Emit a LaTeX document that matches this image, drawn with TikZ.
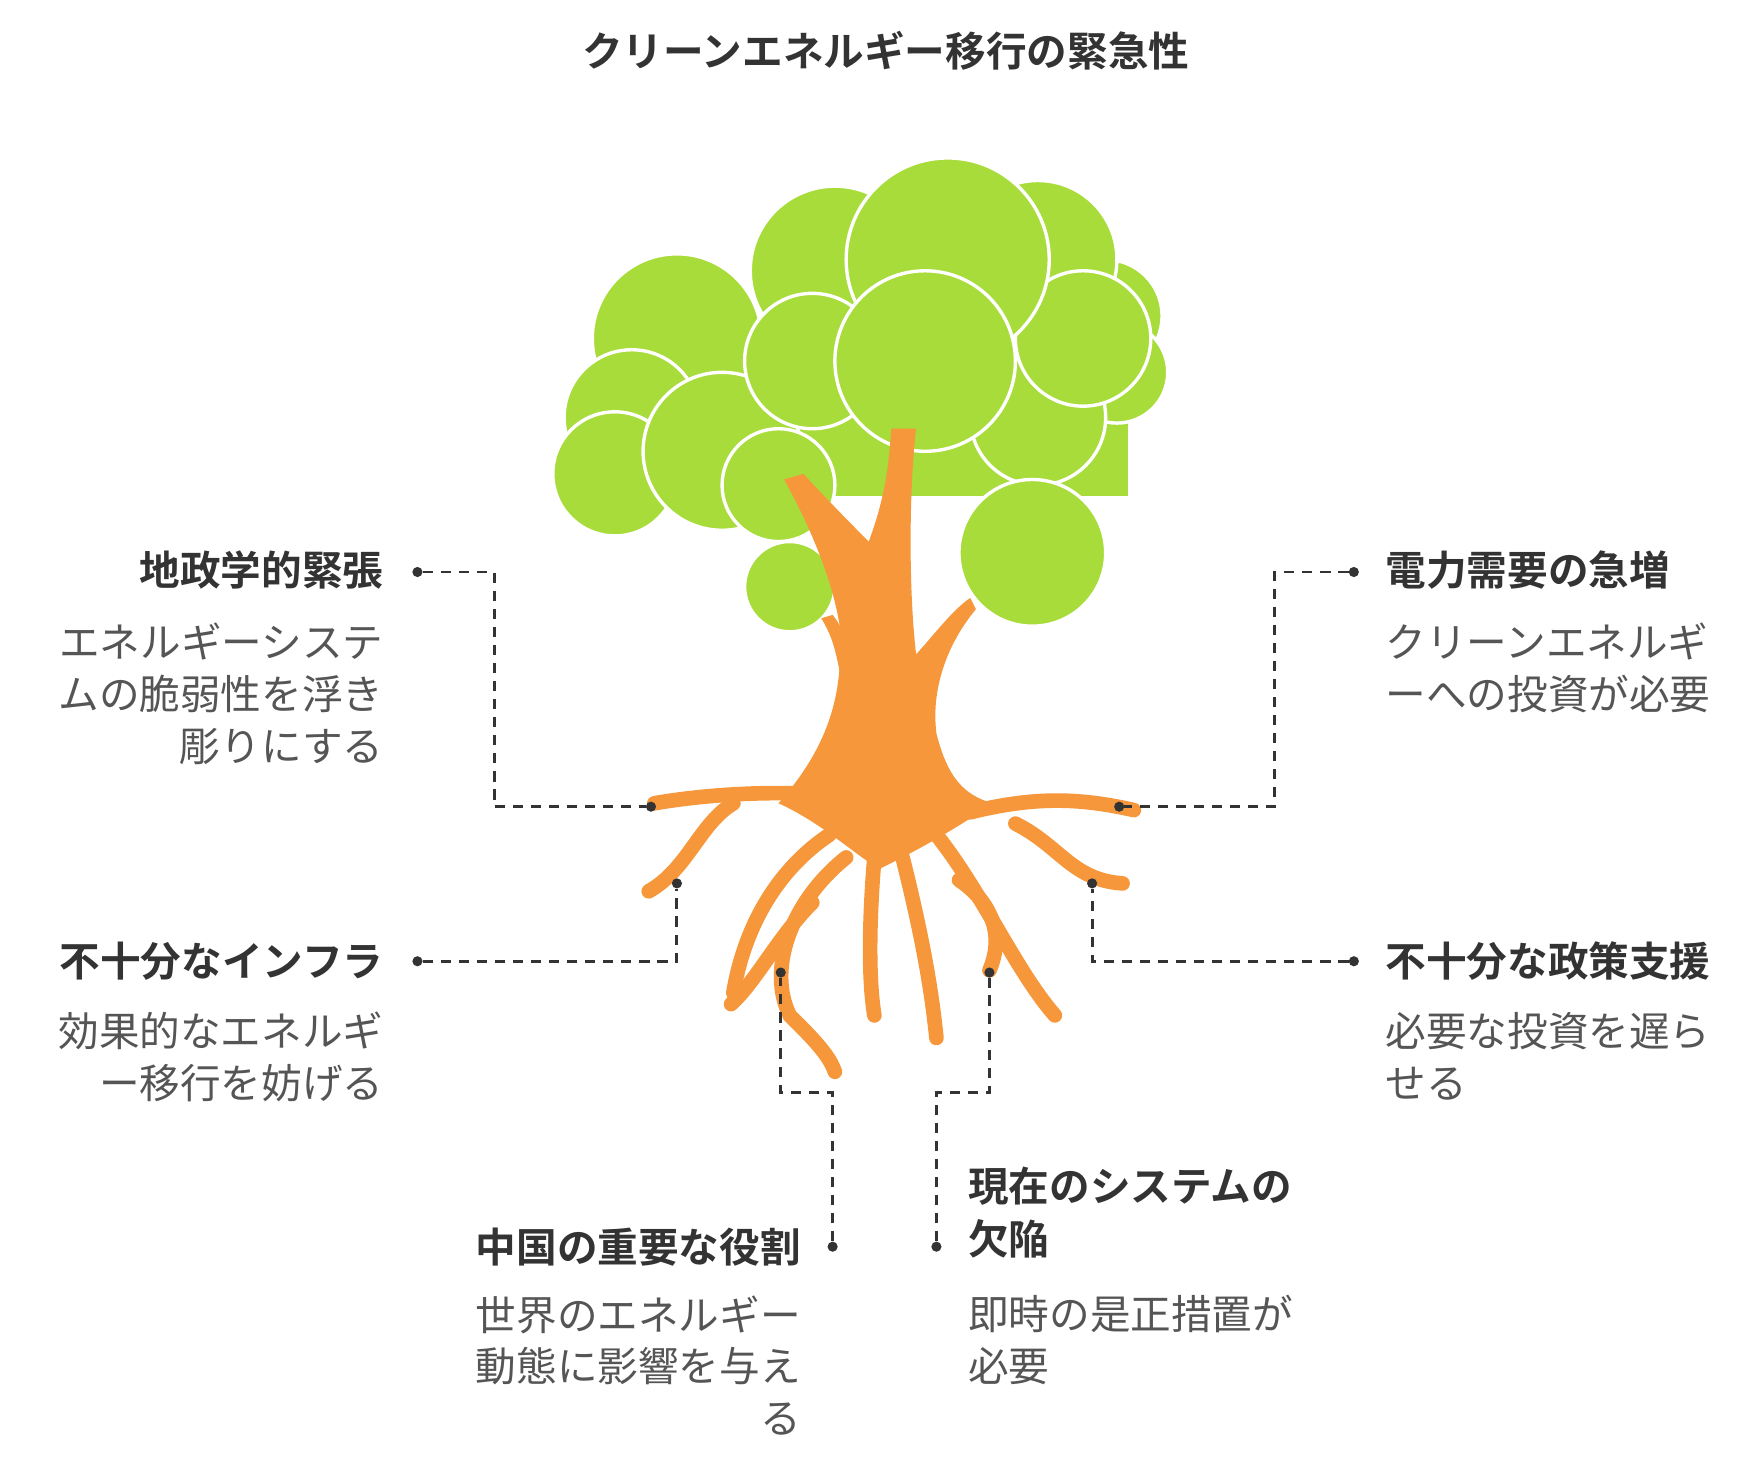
\documentclass[tikz,border=0pt]{standalone}
\usepackage{fontspec}
\setmainfont{Noto Sans CJK JP}
\newfontfamily\jpb{Noto Sans CJK JP Bold}
\definecolor{leaf}{HTML}{A8DC3A}
\definecolor{bark}{HTML}{F5973A}
\definecolor{ink}{HTML}{333333}
\definecolor{soft}{HTML}{555555}
\tikzset{
  hd/.style={font=\jpb\fontsize{36}{47}\selectfont, text=ink, inner sep=0pt},
  ds/.style={font=\fontsize{36}{46}\selectfont, text=soft, inner sep=0pt, align=#1},
  lk/.style={draw=ink, line width=2.6pt, dash pattern=on 9pt off 7pt},
  pt/.style={circle, fill=ink, inner sep=0pt, minimum size=9pt},
  blob/.style={fill=leaf, draw=white, line width=3pt},
  root/.style={draw=bark, line width=13pt, line cap=round}
}
\begin{document}
\begin{tikzpicture}[x=1pt,y=-1pt]
  \useasboundingbox (0,0) rectangle (1560,1307);

  \node[hd] (ttl) at (785,45) {クリーンエネルギー移行の緊急性};

  %% canopy
  \fill[leaf] (560,300) rectangle (1000,440);
  \foreach \x/\y/\r in {600/300/75, 560/370/60, 545/420/55, 640/400/70, 690/430/50,
      980/280/50, 990/330/45, 920/370/60, 740/240/75, 920/230/70, 720/320/60,
      960/300/60, 840/230/90, 820/320/80, 915/490/65, 700/520/40}
    \draw[blob] (\x,\y) circle[radius=\r pt];

  %% trunk
  \fill[bark] (690,712) .. controls (745,650) and (745,600) .. (745,560)
    .. controls (740,520) and (720,470) .. (695,425) -- (712,420)
    .. controls (740,450) and (760,470) .. (770,480)
    .. controls (785,440) and (788,410) .. (790,380) -- (812,380)
    .. controls (806,430) and (805,520) .. (812,580)
    .. controls (830,560) and (845,540) .. (860,530) -- (865,540)
    .. controls (840,570) and (825,610) .. (830,650)
    .. controls (840,690) and (855,705) .. (880,712)
    .. controls (840,740) and (800,760) .. (780,770)
    .. controls (760,760) and (730,730) .. cycle;
  \fill[bark] (745,600) .. controls (740,570) and (735,560) .. (728,548) -- (738,545)
    .. controls (750,560) and (755,580) .. (758,600) -- cycle;

  %% roots
  \draw[root] (740,705) .. controls (680,700) and (620,705) .. (580,712);
  \draw[root] (650,712) .. controls (620,730) and (610,770) .. (575,790);
  \draw[root] (735,740) .. controls (690,770) and (660,820) .. (650,880);
  \draw[root] (750,760) .. controls (700,800) and (680,860) .. (700,900)
    .. controls (720,920) and (735,935) .. (740,950);
  \draw[root] (720,800) .. controls (690,830) and (670,870) .. (648,890);
  \draw[root] (775,760) .. controls (770,820) and (770,870) .. (775,900);
  \draw[root] (800,760) .. controls (815,820) and (825,870) .. (830,920);
  \draw[root] (830,740) .. controls (870,790) and (900,860) .. (935,900);
  \draw[root] (860,720) .. controls (920,705) and (960,708) .. (1005,718);
  \draw[root] (900,730) .. controls (940,750) and (950,780) .. (995,783);
  \draw[root] (850,780) .. controls (880,800) and (890,830) .. (877,860);

  %% left top
  \node[hd, anchor=east] (geo) at (340,505) {地政学的緊張};
  \node[ds=right, anchor=north east] (geod) at (340,552) {エネルギーシステ\\ムの脆弱性を浮き\\彫りにする};
  \node[pt] (g1) at (370,507) {};
  \node[pt] (g2) at (577,715) {};
  \draw[lk] (g1) -- (438,507) -- (438,715) -- (g2);

  %% left bottom
  \node[hd, anchor=east] (inf) at (340,852) {不十分なインフラ};
  \node[ds=right, anchor=north east] (infd) at (340,897) {効果的なエネルギ\\ー移行を妨げる};
  \node[pt] (i1) at (370,852) {};
  \node[pt] (i2) at (600,783) {};
  \draw[lk] (i1) -- (600,852) -- (i2);

  %% right top
  \node[hd, anchor=west] (pow) at (1228,505) {電力需要の急増};
  \node[ds=left, anchor=north west] (powd) at (1228,552) {クリーンエネルギ\\ーへの投資が必要};
  \node[pt] (p1) at (1200,507) {};
  \node[pt] (p2) at (992,715) {};
  \draw[lk] (p1) -- (1130,507) -- (1130,715) -- (p2);

  %% right bottom
  \node[hd, anchor=west] (pol) at (1228,852) {不十分な政策支援};
  \node[ds=left, anchor=north west] (pold) at (1228,897) {必要な投資を遅ら\\せる};
  \node[pt] (o1) at (1200,852) {};
  \node[pt] (o2) at (968,783) {};
  \draw[lk] (o1) -- (968,852) -- (o2);

  %% bottom left
  \node[hd, anchor=east] (chn) at (710,1105) {中国の重要な役割};
  \node[ds=right, anchor=north east] (chnd) at (710,1148) {世界のエネルギー\\動態に影響を与え\\る};
  \node[pt] (c1) at (738,1105) {};
  \node[pt] (c2) at (692,862) {};
  \draw[lk] (c1) -- (738,968) -- (692,968) -- (c2);

  %% bottom right
  \node[hd, anchor=north west, align=left] (sys) at (858,1034) {現在のシステムの\\欠陥};
  \node[ds=left, anchor=north west] (sysd) at (858,1148) {即時の是正措置が\\必要};
  \node[pt] (s1) at (830,1105) {};
  \node[pt] (s2) at (877,862) {};
  \draw[lk] (s1) -- (830,968) -- (877,968) -- (s2);
\end{tikzpicture}
\end{document}
